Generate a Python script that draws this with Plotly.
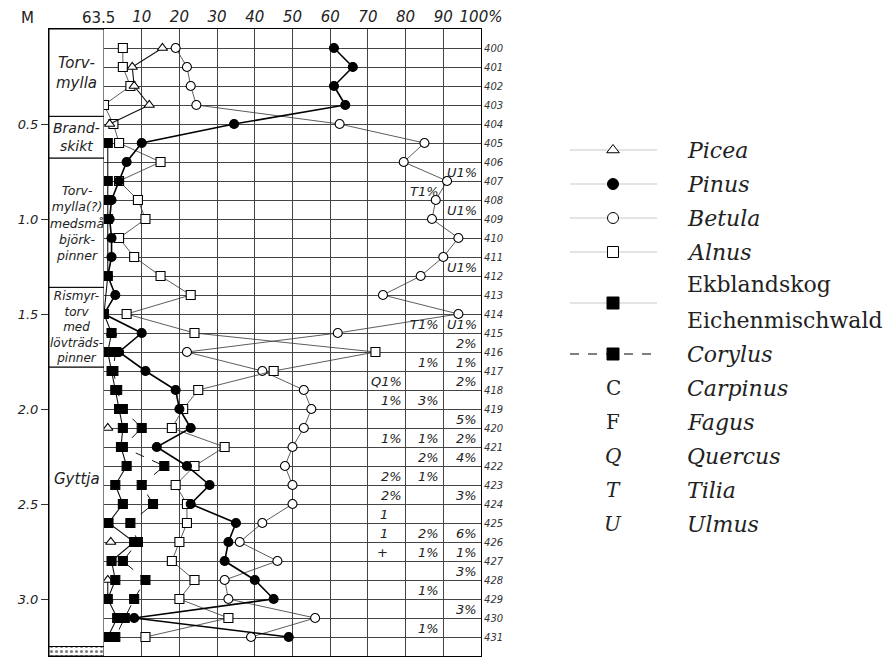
import plotly.graph_objects as go

# ---------------- data ----------------
samples = list(range(400, 432))
depth = [round(0.1 * (s - 399), 2) for s in samples]

picea = [15.5, 7.5, 8, 12, 1.5,
         None, None, None, None, None, None, None, None, None, None,
         2, None, None, None, None, 1, None, None, None, None, None,
         1.8, None, 1, 1, None, None]
pinus = [61, 66, 61, 64, 34.5, 10, 6, 4, 2, 1.5, 2, 2, 1, 3, 0, 10,
         4, 11, 19, 20, 23, 14, 22, 28, 23, 35, 33, 32, 40, 45, 8, 49]
betula = [19, 22, 23, 24.5, 62.5, 85, 79.5, 91, 88, 87, 94, 90, 84, 74, 94, 62,
          22, 42, 53, 55, 53, 50, 48, 50, 50, 42, 36, 46, 32, 33, 56, 39]
alnus = [5, 5, 7, 0, 2.5, 4, 15, 4, 9, 11, 4, 8, 15, 23, 6, 24,
         72, 45, 25, 21, 18, 32, 24, 19, 22, 22, 20, 18, 24, 20, 33, 11]
ekbl = [None, None, None, None, None,
        1, None, 1, 1, 1, None, None, 1, None, 0,
        2, 1, 2, 3, 4, 5, 4.5, 6, 3, 5, 1.2, 8, 2, 3, 1, 3.5, 1]
corylus = [None] * 16 + [3, 2.5, 3.5, 5, 10, 5, 16, 10, 13, 7, 9, 5, 11, 8, 5.5, 3]

# notes: sample, column right edge (%), text
note_sample = [407, 408, 409, 412, 415, 415, 416, 417, 417, 418, 418, 419, 419, 420,
               421, 421, 421, 422, 422, 423, 423, 424, 424, 425, 426, 426, 426,
               427, 427, 427, 428, 429, 430, 431]
note_col = [100, 90, 100, 100, 90, 100, 100, 90, 100, 80, 100, 80, 90, 100,
            80, 90, 100, 90, 100, 80, 90, 80, 100, 80, 80, 90, 100,
            80, 90, 100, 100, 90, 100, 90]
note_text = ["U1%", "T1%", "U1%", "U1%", "T1%", "U1%", "2%", "1%", "1%", "Q1%", "2%",
             "1%", "3%", "5%", "1%", "1%", "2%", "2%", "4%", "2%", "1%", "2%", "3%",
             "1", "1", "2%", "6%", "+", "1%", "1%", "3%", "1%", "3%", "1%"]

# lithology
litho_top = [0, 0.46, 0.68, 1.36, 1.78]
litho_bottom = [0.46, 0.68, 1.36, 1.78, 3.25]
litho_label_depth = [0.23, 0.57, 1.02, 1.57, 2.37]
litho_text = ["Torv-<br>mylla", "Brand-<br>skikt",
              "Torv-<br>mylla(?)<br>medsmå<br>björk-<br>pinner",
              "Rismyr-<br>torv<br>med<br>lövträds-<br>pinner", "Gyttja"]
litho_font = [15, 14, 12.5, 12, 15]

depth_ticks = [0.5, 1.0, 1.5, 2.0, 2.5, 3.0]
pct_ticks = [10, 20, 30, 40, 50, 60, 70, 80, 90, 100]
pct_text = ["10", "20", "30", "40", "50", "60", "70", "80", "90", "100%"]

# legend
leg_names = ["Picea", "Pinus", "Betula", "Alnus", "Ekbl", "Corylus"]
leg_rows = [0, 1, 2, 3, 4.5, 6]
letter_codes = ["C", "F", "Q", "T", "U"]
letter_names = ["Carpinus", "Fagus", "Quercus", "Tilia", "Ulmus"]
letter_rows = [7, 8, 9, 10, 11]

# ---------------- figure ----------------
W, H = 889, 657
L, R, T, B = 49, 0, 29, 1
PW = W - L - R
PH = H - T - B
def fx(px):
    return (px - L) / PW
def fy(py):
    return (H - B - py) / PH

fig = go.Figure()

sans = "DejaVu Sans"
serif = "DejaVu Serif"

styles = {
    "Betula": dict(sym="circle", col="white", lw=0.8, lc="#333", size=9, dash="solid"),
    "Alnus": dict(sym="square", col="white", lw=0.8, lc="#333", size=9, dash="solid"),
    "Picea": dict(sym="triangle-up", col="white", lw=1.1, lc="#111", size=9, dash="solid"),
    "Corylus": dict(sym="square", col="black", lw=1.0, lc="#111", size=9, dash="dash"),
    "Ekbl": dict(sym="square", col="black", lw=1.1, lc="#111", size=9, dash="solid"),
    "Pinus": dict(sym="circle", col="black", lw=1.6, lc="#000", size=9, dash="solid"),
}
series = [("Betula", betula, False), ("Alnus", alnus, False), ("Picea", picea, False),
          ("Corylus", corylus, True), ("Ekbl", ekbl, True), ("Pinus", pinus, False)]

for name, vals, cg in series:
    s = styles[name]
    fig.add_trace(go.Scatter(
        x=vals, y=depth, mode="lines+markers", xaxis="x", yaxis="y2",
        connectgaps=cg, showlegend=False, hoverinfo="skip",
        line=dict(color=s["lc"], width=s["lw"], dash=s["dash"]),
        marker=dict(symbol=s["sym"], size=s["size"], color=s["col"],
                    line=dict(color="black", width=1.1))))

# stippled base layer in lithology column
fig.add_trace(go.Bar(x=[1], y=[3.275], base=0, width=0.05, orientation="h",
                     xaxis="x2", yaxis="y", showlegend=False, hoverinfo="skip",
                     marker=dict(color="white", line=dict(color="black", width=1),
                                 pattern=dict(shape=".", fgcolor="black", size=5, solidity=0.3))))

shapes = []
for t, b in zip(litho_top, litho_bottom):
    shapes.append(dict(type="rect", xref="x2", yref="y", x0=0, x1=1, y0=t, y1=b,
                       line=dict(color="black", width=1), fillcolor="white", layer="below"))

annotations = []
for txt, d, fs in zip(litho_text, litho_label_depth, litho_font):
    annotations.append(dict(x=0.5, y=d, xref="x2", yref="y", text="<i>" + txt + "</i>",
                            showarrow=False, font=dict(family=sans, size=fs, color="#222"),
                            align="center"))

for s, c, txt in zip(note_sample, note_col, note_text):
    d = depth[samples.index(s)]
    shift = -14 if "%" not in txt else 0
    annotations.append(dict(x=c - 0.5, y=d - 0.045, xref="x", yref="y2",
                            text="<i>" + txt + "</i>", showarrow=False, xanchor="right",
                            xshift=shift, font=dict(family=sans, size=13, color="#222")))

# header labels above the lithology column
annotations.append(dict(x=fx(19), y=fy(18), xref="paper", yref="paper", yanchor="middle",
                        text="M", showarrow=False, font=dict(family=sans, size=15, color="#222")))
annotations.append(dict(x=fx(80), y=fy(18), xref="paper", yref="paper", yanchor="middle",
                        text="63.5", showarrow=False, font=dict(family=sans, size=15, color="#222")))

# legend subplot (x3/y3)
for name, r in zip(leg_names, leg_rows):
    s = styles[name]
    fig.add_trace(go.Scatter(x=[570, 657], y=[r, r], mode="lines", xaxis="x3", yaxis="y3",
                             showlegend=False, hoverinfo="skip",
                             line=dict(color="black" if name == "Corylus" else "#bbb",
                                       width=1 if name == "Corylus" else 0.8,
                                       dash="dash" if name == "Corylus" else "solid")))
    fig.add_trace(go.Scatter(x=[613], y=[r], mode="markers", xaxis="x3", yaxis="y3",
                             showlegend=False, hoverinfo="skip",
                             marker=dict(symbol=s["sym"], size=12 if name in ("Ekbl", "Corylus") else 11,
                                         color=s["col"], line=dict(color="black", width=1))))

LF = 22
leg_label_rows = [0, 1, 2, 3, 6]
leg_label_text = ["Picea", "Pinus", "Betula", "Alnus", "Corylus"]
for r, t in zip(leg_label_rows, leg_label_text):
    annotations.append(dict(x=685, y=r, xref="x3", yref="y3", text="<i>" + t + "</i>",
                            showarrow=False, xanchor="left",
                            font=dict(family=serif, size=LF, color="#222")))
annotations.append(dict(x=685, y=3.97, xref="x3", yref="y3", text="Ekblandskog",
                        showarrow=False, xanchor="left", font=dict(family=serif, size=LF, color="#222")))
annotations.append(dict(x=685, y=5.0, xref="x3", yref="y3", text="Eichenmischwald",
                        showarrow=False, xanchor="left", font=dict(family=serif, size=LF, color="#222")))
for code, nm, r in zip(letter_codes, letter_names, letter_rows):
    ctext = code if code in ("C", "F") else "<i>" + code + "</i>"
    annotations.append(dict(x=613, y=r, xref="x3", yref="y3", text=ctext, showarrow=False,
                            font=dict(family=serif, size=20, color="#222")))
    annotations.append(dict(x=685, y=r, xref="x3", yref="y3", text="<i>" + nm + "</i>",
                            showarrow=False, xanchor="left",
                            font=dict(family=serif, size=LF, color="#222")))

grid_col = "#444"
fig.update_layout(
    width=W, height=H, autosize=False,
    margin=dict(l=L, r=R, t=T, b=B, pad=0, autoexpand=False),
    paper_bgcolor="white", plot_bgcolor="white",
    showlegend=False,
    shapes=shapes, annotations=annotations,
    xaxis=dict(domain=[fx(104), fx(481)], range=[0, 100], anchor="y2", side="top",
               tickvals=pct_ticks, ticktext=["<i>" + t + "</i>" for t in pct_text],
               ticks="", showgrid=True, gridcolor=grid_col, gridwidth=1, automargin=False,
               zeroline=True, zerolinecolor="black", zerolinewidth=1,
               showline=True, linecolor="black", linewidth=1, mirror=True,
               tickfont=dict(family=sans, size=15, color="#222")),
    yaxis2=dict(domain=[0, 1], range=[3.3, 0], anchor="x", side="right",
                tickvals=depth, ticktext=["<i>" + str(s) + "</i>" for s in samples],
                ticks="", showgrid=True, gridcolor=grid_col, gridwidth=1, zeroline=False,
                showline=True, linecolor="black", linewidth=1.2, mirror=True, automargin=False,
                tickfont=dict(family=sans, size=10, color="#333")),
    xaxis2=dict(domain=[0, fx(104)], range=[0, 1], anchor="y", showticklabels=False,
                ticks="", showgrid=False, zeroline=False, showline=True, automargin=False,
                linecolor="black", linewidth=1, mirror=True),
    yaxis=dict(domain=[0, 1], range=[3.3, 0], anchor="x2", side="left",
               tickvals=depth_ticks, ticktext=["<i>%.1f</i>" % v for v in depth_ticks],
               ticks="outside", ticklen=7, tickcolor="#333", showgrid=False, zeroline=False,
               showline=True, linecolor="black", linewidth=1, automargin=False,
               tickfont=dict(family=sans, size=13, color="#222")),
    xaxis3=dict(domain=[fx(560), 1], range=[560, 889], anchor="y3", visible=False),
    yaxis3=dict(domain=[0, 1], range=[(H - B - 150) / 34.0, (T - 150) / 34.0],
                anchor="x3", visible=False),
)

fig.write_html("out.html",
               config={"displayModeBar": False},
               post_script="document.body.style.margin='0';document.body.style.padding='0';"
                           "document.body.style.overflow='hidden';")
